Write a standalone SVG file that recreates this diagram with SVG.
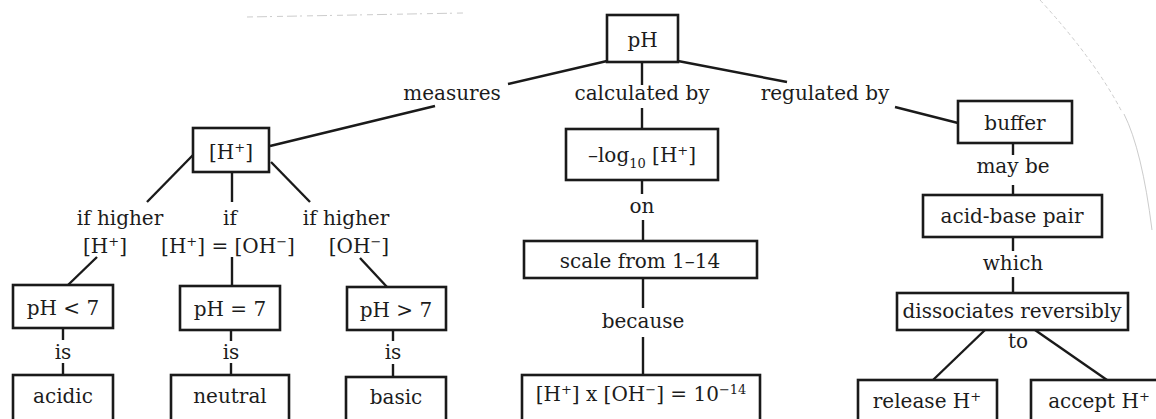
<svg xmlns="http://www.w3.org/2000/svg" width="1156" height="419" viewBox="0 0 1156 419">
<style>
.box{fill:#fff;stroke:#1a1a1a;stroke-width:2.6}
.ln{stroke:#1a1a1a;stroke-width:2.4;fill:none;stroke-linecap:butt}
text{font-family:"DejaVu Serif","Liberation Serif",serif;font-size:20px;fill:#1c1c1c;text-anchor:middle}
.sup{font-size:13px}
.art{fill:none;stroke:#ccc;stroke-width:1}
</style>
<rect width="1156" height="419" fill="#fff"/>
<g id="artifacts">
<path class="art" d="M247 17 L463 13" stroke="#dcdcdc" stroke-dasharray="6 4 10 3 2 5"/>
<path class="art" d="M1040 0 Q1095 60 1122 112" stroke="#dedede" stroke-dasharray="4 3"/>
<path class="art" d="M1124 114 Q1142 150 1152 230" stroke="#aaa"/>
</g>
<g id="connectors">
<line class="ln" x1="607" y1="61" x2="508" y2="84"/>
<line class="ln" x1="435" y1="106" x2="270" y2="146"/>
<line class="ln" x1="642" y1="62" x2="642" y2="85"/>
<line class="ln" x1="642" y1="108" x2="642" y2="129"/>
<line class="ln" x1="678" y1="61" x2="787" y2="82"/>
<line class="ln" x1="895" y1="107" x2="958" y2="123"/>
<line class="ln" x1="642" y1="180" x2="642" y2="194"/>
<line class="ln" x1="643" y1="220" x2="643" y2="241"/>
<line class="ln" x1="643" y1="278" x2="643" y2="308"/>
<line class="ln" x1="643" y1="337" x2="643" y2="375"/>
<line class="ln" x1="193" y1="155" x2="147" y2="202"/>
<line class="ln" x1="232" y1="172" x2="232" y2="202"/>
<line class="ln" x1="271" y1="162" x2="310" y2="202"/>
<line class="ln" x1="97" y1="257" x2="68" y2="285"/>
<line class="ln" x1="232" y1="257" x2="232" y2="286"/>
<line class="ln" x1="360" y1="258" x2="387" y2="287"/>
<line class="ln" x1="63" y1="328" x2="63" y2="340"/>
<line class="ln" x1="63" y1="363" x2="63" y2="375"/>
<line class="ln" x1="231" y1="330" x2="231" y2="341"/>
<line class="ln" x1="231" y1="363" x2="231" y2="375"/>
<line class="ln" x1="393" y1="330" x2="393" y2="341"/>
<line class="ln" x1="393" y1="364" x2="393" y2="377"/>
<line class="ln" x1="1013" y1="143" x2="1013" y2="155"/>
<line class="ln" x1="1013" y1="185" x2="1013" y2="195"/>
<line class="ln" x1="1013" y1="237" x2="1013" y2="251"/>
<line class="ln" x1="1013" y1="277" x2="1013" y2="293"/>
<line class="ln" x1="985" y1="330" x2="933" y2="380"/>
<line class="ln" x1="1035" y1="330" x2="1107" y2="380"/>
</g>
<g id="labels">
<text x="452" y="100">measures</text>
<text x="642" y="100">calculated by</text>
<text x="825" y="100">regulated by</text>
<text x="120" y="225">if higher</text>
<text x="230" y="225">if</text>
<text x="346" y="225">if higher</text>
<text x="105" y="253">[H<tspan class="sup" dy="-7">+</tspan><tspan dy="7">]</tspan></text>
<text x="228" y="253">[H<tspan class="sup" dy="-7">+</tspan><tspan dy="7">] = [OH</tspan><tspan class="sup" dy="-7">−</tspan><tspan dy="7">]</tspan></text>
<text x="359" y="253">[OH<tspan class="sup" dy="-7">−</tspan><tspan dy="7">]</tspan></text>
<text x="63" y="359">is</text>
<text x="231" y="359">is</text>
<text x="393" y="359">is</text>
<text x="642" y="213">on</text>
<text x="643" y="328">because</text>
<text x="1013" y="173">may be</text>
<text x="1013" y="270">which</text>
<text x="1018" y="348">to</text>
</g>
<g id="n-ph"><rect class="box" x="607" y="15" width="71" height="47"/><text x="642.5" y="47">pH</text></g>
<g id="n-h"><rect class="box" x="193" y="128" width="76" height="44"/><text x="231" y="159">[H<tspan class="sup" dy="-7">+</tspan><tspan dy="7">]</tspan></text></g>
<g id="n-log"><rect class="box" x="566" y="129" width="152" height="51"/><text x="642" y="162">–log<tspan class="sup" font-size="15" dy="6">10</tspan><tspan dy="-6"> [H</tspan><tspan class="sup" dy="-7">+</tspan><tspan dy="7">]</tspan></text></g>
<g id="n-buffer"><rect class="box" x="958" y="101" width="114" height="42"/><text x="1015" y="130">buffer</text></g>
<g id="n-lt7"><rect class="box" x="13" y="285" width="100" height="43"/><text x="63" y="315">pH &lt; 7</text></g>
<g id="n-eq7"><rect class="box" x="180" y="286" width="100" height="44"/><text x="230" y="316">pH = 7</text></g>
<g id="n-gt7"><rect class="box" x="347" y="287" width="99" height="43"/><text x="396" y="317">pH &gt; 7</text></g>
<g id="n-acidic"><rect class="box" x="13" y="375" width="100" height="60"/><text x="63" y="403">acidic</text></g>
<g id="n-neutral"><rect class="box" x="171" y="375" width="118" height="60"/><text x="230" y="403">neutral</text></g>
<g id="n-basic"><rect class="box" x="346" y="377" width="100" height="60"/><text x="396" y="404">basic</text></g>
<g id="n-scale"><rect class="box" x="524" y="241" width="233" height="37"/><text x="640" y="268">scale from 1–14</text></g>
<g id="n-prod"><rect class="box" x="522" y="375" width="238" height="60"/><text x="641" y="401">[H<tspan class="sup" dy="-7">+</tspan><tspan dy="7">] x [OH</tspan><tspan class="sup" dy="-7">−</tspan><tspan dy="7">] = 10</tspan><tspan class="sup" dy="-7">−14</tspan></text></g>
<g id="n-acidbase"><rect class="box" x="923" y="195" width="179" height="42"/><text x="1012" y="223">acid-base pair</text></g>
<g id="n-dissoc"><rect class="box" x="897" y="293" width="231" height="37"/><text x="1012" y="318">dissociates reversibly</text></g>
<g id="n-release"><rect class="box" x="858" y="380" width="139" height="60"/><text x="927" y="408">release H<tspan class="sup" dy="-7">+</tspan></text></g>
<g id="n-accept"><rect class="box" x="1031" y="380" width="140" height="60"/><text x="1099" y="408">accept H<tspan class="sup" dy="-7">+</tspan></text></g>
</svg>
